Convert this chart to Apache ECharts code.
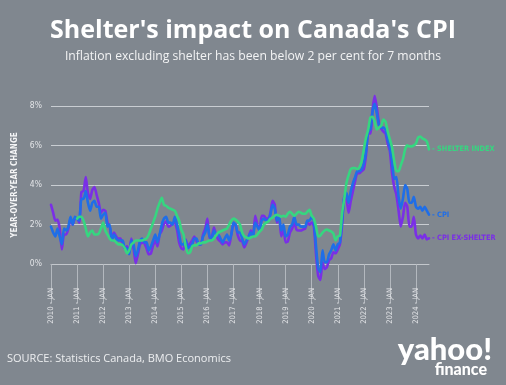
<!DOCTYPE html>
<html><head><meta charset="utf-8">
<script src="https://cdn.jsdelivr.net/npm/echarts@6/dist/echarts.min.js"></script>
<style>html,body{margin:0;padding:0;background:#80878f;}#c{width:506px;height:385px;}</style>
</head><body><div id="c"></div>
<script>
// Monthly, Jan 2010 .. Jul 2024
const startYear = 2010, monthCount = 175;
const yTicks = ['0%', '2%', '4%', '6%', '8%'];
const seriesNames = ['SHELTER INDEX', 'CPI', 'CPI EX-SHELTER'];

const cpi = [
 1.9,1.6,1.4,1.8,1.4,1.0,1.8,1.7,1.9,2.4,2.0,2.4,   // 2010
 2.3,2.2,3.3,3.3,3.7,3.1,2.7,3.1,3.2,2.9,2.9,2.3,   // 2011
 2.5,2.6,1.9,2.0,1.2,1.5,1.3,1.2,1.2,1.2,0.8,0.8,   // 2012
 0.5,1.2,1.0,0.4,0.7,1.2,1.3,1.1,1.1,0.7,0.9,1.2,   // 2013
 1.5,1.1,1.5,2.0,2.3,2.4,2.1,2.1,2.0,2.4,2.0,1.5,   // 2014
 1.0,1.0,1.2,0.8,0.9,1.0,1.3,1.3,1.0,1.0,1.4,1.6,   // 2015
 2.0,1.4,1.3,1.7,1.5,1.5,1.3,1.1,1.3,1.5,1.2,1.5,   // 2016
 2.1,2.0,1.6,1.6,1.3,1.0,1.2,1.4,1.6,1.4,2.1,1.9,   // 2017
 1.7,2.2,2.3,2.2,2.2,2.5,3.0,2.8,2.2,2.4,1.7,2.0,   // 2018
 1.4,1.5,1.9,2.0,2.4,2.0,2.0,1.9,1.9,1.9,2.2,2.2,   // 2019
 2.4,2.2,0.9,-0.2,-0.4,0.7,0.1,0.1,0.5,0.7,1.0,0.7, // 2020
 1.0,1.1,2.2,3.4,3.6,3.1,3.7,4.1,4.4,4.7,4.7,4.8,   // 2021
 5.1,5.7,6.7,6.8,7.7,8.1,7.6,7.0,6.9,6.9,6.8,6.3,   // 2022
 5.9,5.2,4.3,4.4,3.4,2.8,3.3,4.0,3.8,3.1,3.1,3.4,   // 2023
 2.9,2.8,2.9,2.7,2.9,2.7,2.5                        // 2024
];
const cpiExShelter = [
 3.0,2.6,2.2,2.25,1.8,0.75,1.5,1.5,1.8,2.3,2.0,2.3,
 2.3,2.1,3.65,3.7,4.4,3.6,3.3,3.75,3.9,3.5,3.1,2.6,
 2.75,2.7,2.1,1.9,1.35,1.6,1.4,1.3,1.3,1.0,0.8,0.9,
 0.6,1.3,0.8,0.05,0.5,1.0,1.1,1.05,0.8,0.5,0.55,0.95,
 1.2,0.9,1.5,1.7,2.05,2.15,1.9,1.95,2.05,2.1,1.75,1.1,
 0.8,0.75,1.25,0.9,1.05,1.2,1.4,1.15,1.05,1.0,1.5,1.8,
 2.3,1.3,1.35,1.85,1.5,1.25,1.15,1.0,1.1,1.1,0.95,1.5,
 2.0,1.95,1.45,1.2,1.15,0.85,1.1,1.4,1.7,1.45,2.45,2.0,
 1.75,2.45,2.45,2.3,2.3,2.6,3.2,3.0,2.1,2.35,1.4,1.8,
 1.1,1.15,1.6,1.8,2.1,1.75,1.7,1.7,1.75,1.8,2.1,2.0,
 2.1,1.9,0.5,-0.6,-0.8,0.1,-0.25,-0.15,0.2,0.3,0.6,0.55,
 0.75,1.0,2.0,3.4,3.3,2.6,3.2,3.7,4.2,4.6,4.6,4.7,
 4.8,5.5,6.6,6.6,7.8,8.5,7.9,7.1,6.85,6.7,6.6,6.1,
 5.7,4.6,3.9,3.5,2.7,1.9,2.4,3.1,2.9,1.9,1.9,2.4,
 1.5,1.3,1.45,1.3,1.5,1.25,1.3
];
const shelter = [
 null,null,null,null,null,null,null,null,null,null,null,null,
 2.3,2.4,2.4,2.2,1.8,1.4,1.6,1.7,1.5,1.5,1.55,1.8,
 2.1,1.7,1.5,1.3,1.2,1.2,1.1,1.0,1.0,0.95,0.8,0.55,
 0.7,1.0,1.1,1.2,1.2,1.2,1.2,1.25,1.3,1.5,1.8,2.1,
 2.4,2.8,3.1,3.35,3.0,2.95,2.85,2.8,2.75,2.7,2.45,2.2,
 1.75,1.5,0.9,0.55,0.6,0.9,0.95,0.95,1.05,1.05,1.1,1.1,
 1.15,1.2,1.2,1.3,1.45,1.6,1.65,1.7,1.75,1.8,2.0,2.2,
 2.3,2.25,2.15,2.0,1.6,1.4,1.35,1.3,1.35,1.4,1.4,1.5,
 1.65,1.75,2.0,2.1,2.15,2.3,2.35,2.45,2.5,2.45,2.4,2.45,
 2.4,2.55,2.65,2.55,2.45,2.55,2.65,2.6,2.55,2.55,2.65,2.75,
 2.45,2.3,1.9,1.4,1.45,1.6,1.7,1.75,1.7,1.65,1.55,1.2,
 1.4,1.45,2.6,3.3,4.1,4.5,4.8,4.85,4.85,4.8,4.9,5.2,
 5.8,6.4,6.8,7.4,7.45,7.2,6.8,6.9,7.0,7.3,7.2,6.7,
 6.3,5.9,5.2,4.7,4.7,5.0,5.3,5.8,6.0,5.95,5.95,6.0,
 6.1,6.4,6.45,6.35,6.3,6.2,5.8
];

const months = [];
for (let i = 0; i < monthCount; i++) {
  const y = startYear + Math.floor(i / 12), m = (i % 12) + 1;
  months.push(y + '-' + (m < 10 ? '0' + m : m));
}

const NARROW = "'Liberation Sans Narrow', 'DejaVu Sans Condensed', sans-serif";
const colors = { shelter: '#36d680', cpi: '#1f6ee8', ex: '#7a2fe6' };

function line(name, data, color) {
  return {
    name, type: 'line', data, showSymbol: false, smooth: 0.2,
    lineStyle: { width: 2.6, color, join: 'round', cap: 'round' },
    itemStyle: { color },
    endLabel: {
      show: true, formatter: '- ' + name, distance: 3,
      color, fontFamily: NARROW, fontWeight: 'bold', fontSize: 7.4
    },
    emphasis: { disabled: true }
  };
}

const chart = echarts.init(document.getElementById('c'), null, { renderer: 'canvas' });
chart.setOption({
  backgroundColor: '#80878f',
  animation: false,
  title: [
    { text: "Shelter's impact on Canada's CPI", left: 'center', top: 13,
      textStyle: { color: '#ffffff', fontFamily: "'Open Sans', sans-serif", fontWeight: 'bold', fontSize: 25 } },
    { text: 'Inflation excluding shelter has been below 2 per cent for 7 months', left: 'center', top: 46,
      textStyle: { color: '#f2f3f4', fontFamily: "'Open Sans', sans-serif", fontWeight: 'normal', fontSize: 12.2 } }
  ],
  grid: { left: 51, right: 77, top: 86, bottom: 101, containLabel: false },
  xAxis: {
    type: 'category', data: months, boundaryGap: false,
    axisLine: { show: true, lineStyle: { color: '#c3c7cc', width: 1 } },
    axisTick: { show: true, length: 39, interval: (i) => i % 12 === 0, lineStyle: { color: '#b3b8be', width: 1 } },
    axisLabel: {
      interval: (i) => i % 12 === 0, rotate: 90, margin: 4,
      formatter: (v) => v.slice(0, 4) + ' - JAN',
      color: '#e2e4e7', fontFamily: NARROW, fontSize: 7.6, padding: [0, 0, 12, 0]
    },
    splitLine: { show: false }
  },
  yAxis: {
    type: 'value', min: -1, max: 9, interval: 1,
    name: 'YEAR-OVER-YEAR CHANGE', nameLocation: 'middle', nameRotate: 90, nameGap: 31,
    nameTextStyle: { color: '#f4f5f6', fontFamily: NARROW, fontWeight: 'bold', fontSize: 8 },
    axisLine: { show: false }, axisTick: { show: false },
    axisLabel: {
      margin: 9, color: '#e2e4e7', fontFamily: NARROW, fontSize: 8.5,
      formatter: (v) => (v >= 0 && v % 2 === 0) ? yTicks[v / 2] : ''
    },
    splitLine: { show: true, lineStyle: { color: ['rgba(0,0,0,0)', '#c9cdd2'], width: 1 } }
  },
  series: [
    line(seriesNames[2], cpiExShelter, colors.ex),
    line(seriesNames[1], cpi, colors.cpi),
    line(seriesNames[0], shelter, colors.shelter)
  ],
  graphic: [
    { type: 'text', left: 7, top: 353,
      style: { text: 'SOURCE: Statistics Canada, BMO Economics', fill: '#eceef0', font: "11px 'Open Sans', sans-serif" } },
    { type: 'text', right: 14, top: 334,
      style: { text: 'yahoo!', fill: '#ffffff', font: "900 31px Lato, 'Open Sans', sans-serif" } },
    { type: 'text', right: 19, top: 362,
      style: { text: 'finance', fill: '#ffffff', font: "900 16px Lato, 'Open Sans', sans-serif" } }
  ]
});
</script></body></html>
